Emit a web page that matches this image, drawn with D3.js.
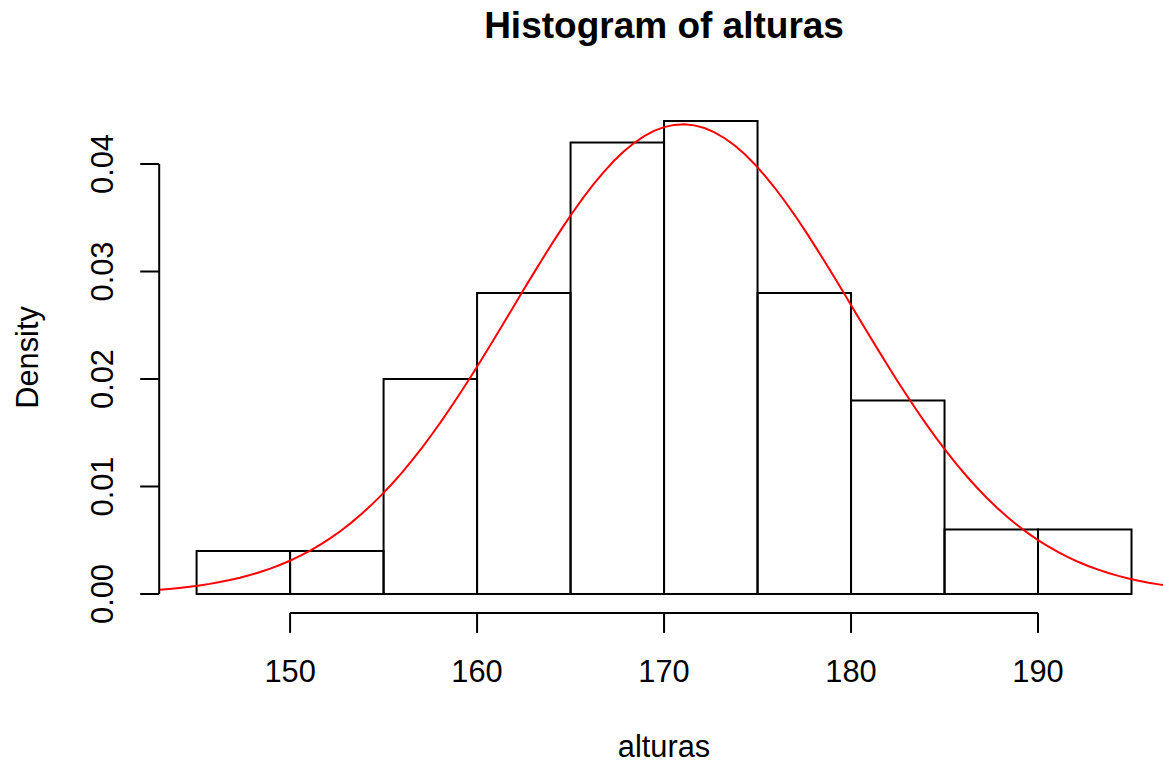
<!DOCTYPE html>
<html>
<head>
<meta charset="utf-8">
<script src="https://cdn.jsdelivr.net/npm/d3@7"></script>
<style>
  body { margin: 0; background: #fff; }
  text { font-family: "Liberation Sans", Arial, sans-serif; fill: #000; }
</style>
</head>
<body>
<div id="chart"></div>
<script>
// histogram bins (breaks) and densities
var binStarts = [145, 150, 155, 160, 165, 170, 175, 180, 185, 190];
var binWidth = 5;
var densities = [0.004, 0.004, 0.020, 0.028, 0.042, 0.044, 0.028, 0.018, 0.006, 0.006];
var xTicks = [150, 160, 170, 180, 190];
var yTicks = [0, 0.01, 0.02, 0.03, 0.04];
var yTickLabels = ["0.00", "0.01", "0.02", "0.03", "0.04"];
// red curve: dnorm(x, mean, sd) as drawn with curve(..., add = TRUE)
var curveMean = 171;
var curveSd = 9.13;

var width = 1163, height = 763;

var svg = d3.select('#chart').append('svg')
  .attr('width', width).attr('height', height);

// R pads the data range by 4% on each side
var x = d3.scaleLinear().domain([143, 197]).range([159.2, 1168.9]);
var y = d3.scaleLinear().domain([-0.00176, 0.04576]).range([612.9, 102.1]);

// bars
svg.append('g').selectAll('rect')
  .data(binStarts)
  .enter().append('rect')
  .attr('x', function (d) { return x(d); })
  .attr('y', function (d, i) { return y(densities[i]); })
  .attr('width', function (d) { return x(d + binWidth) - x(d); })
  .attr('height', function (d, i) { return y(0) - y(densities[i]); })
  .attr('fill', 'none')
  .attr('stroke', '#000')
  .attr('stroke-width', 2);

// normal curve, clipped to plot region
svg.append('clipPath').attr('id', 'plotClip')
  .append('rect')
  .attr('x', x(143)).attr('y', y(0.04576))
  .attr('width', x(197) - x(143)).attr('height', y(-0.00176) - y(0.04576));

var curvePts = d3.range(0, 101).map(function (i) {
  var v = 143 + i * (197 - 143) / 100;
  var z = (v - curveMean) / curveSd;
  return [v, Math.exp(-0.5 * z * z) / (curveSd * Math.sqrt(2 * Math.PI))];
});

svg.append('path')
  .attr('clip-path', 'url(#plotClip)')
  .attr('d', d3.line()
    .x(function (d) { return x(d[0]); })
    .y(function (d) { return y(d[1]); })(curvePts))
  .attr('fill', 'none')
  .attr('stroke', '#ff0000')
  .attr('stroke-width', 2);

// x axis (R style: line from first to last tick)
var xAxisY = y(-0.00176);
var gx = svg.append('g');
gx.append('line')
  .attr('x1', x(xTicks[0])).attr('x2', x(xTicks[xTicks.length - 1]))
  .attr('y1', xAxisY).attr('y2', xAxisY)
  .attr('stroke', '#000').attr('stroke-width', 2);
gx.selectAll('.tk').data(xTicks).enter().append('line')
  .attr('x1', function (d) { return x(d); }).attr('x2', function (d) { return x(d); })
  .attr('y1', xAxisY).attr('y2', xAxisY + 20)
  .attr('stroke', '#000').attr('stroke-width', 2);
gx.selectAll('text').data(xTicks).enter().append('text')
  .attr('x', function (d) { return x(d); })
  .attr('y', xAxisY + 69)
  .attr('text-anchor', 'middle')
  .style('font-size', '30.8px')
  .text(function (d) { return d; });

// y axis
var yAxisX = x(143);
var gy = svg.append('g');
gy.append('line')
  .attr('x1', yAxisX).attr('x2', yAxisX)
  .attr('y1', y(yTicks[0])).attr('y2', y(yTicks[yTicks.length - 1]))
  .attr('stroke', '#000').attr('stroke-width', 2);
gy.selectAll('.tk').data(yTicks).enter().append('line')
  .attr('x1', yAxisX - 19).attr('x2', yAxisX)
  .attr('y1', function (d) { return y(d); }).attr('y2', function (d) { return y(d); })
  .attr('stroke', '#000').attr('stroke-width', 2);
gy.selectAll('text').data(yTicks).enter().append('text')
  .attr('transform', function (d) { return 'translate(113,' + y(d) + ') rotate(-90)'; })
  .attr('text-anchor', 'middle')
  .style('font-size', '30.8px')
  .text(function (d, i) { return yTickLabels[i]; });

// titles
svg.append('text')
  .attr('x', (x(143) + x(197)) / 2).attr('y', 38)
  .attr('text-anchor', 'middle')
  .style('font-size', '37px').style('font-weight', 'bold')
  .text('Histogram of alturas');

svg.append('text')
  .attr('x', (x(143) + x(197)) / 2).attr('y', 757)
  .attr('text-anchor', 'middle')
  .style('font-size', '30.8px')
  .text('alturas');

svg.append('text')
  .attr('transform', 'translate(38,' + (y(-0.00176) + y(0.04576)) / 2 + ') rotate(-90)')
  .attr('text-anchor', 'middle')
  .style('font-size', '30.8px')
  .text('Density');
</script>
</body>
</html>
